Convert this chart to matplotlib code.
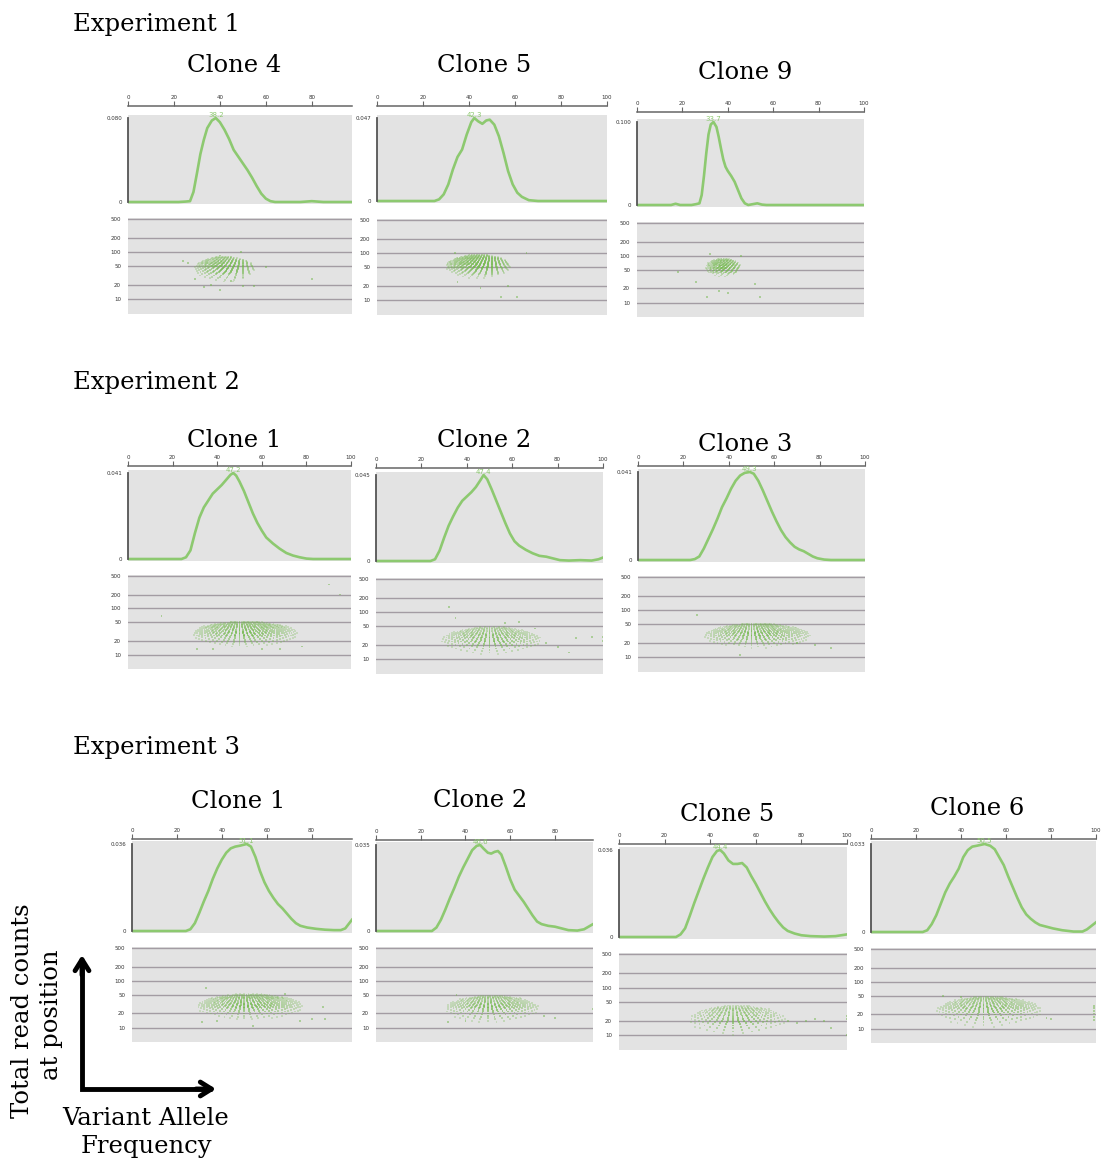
import math
import numpy as np
import matplotlib
matplotlib.use("Agg")
import matplotlib.pyplot as plt
from matplotlib.colors import to_rgb

W, H = 1105, 1165
GREEN = "#8dc970"
DOT = "#74b94e"
BOX = "#e3e3e3"
GRID = "#a39ca3"
SERIF = "DejaVu Serif"

# ---------------- density curves (VAF %, height relative to the peak) ----------------
# Experiment 1
e1c4_vaf = [0, 22, 25, 27, 28.5, 30, 31.5, 33, 34.5, 36.5, 38.2, 40, 42, 44, 46, 48, 50, 52, 54, 56, 58, 60, 62, 64, 75, 80, 85, 97.5]
e1c4_den = [0, 0, 0.005, 0.01, 0.12, 0.34, 0.57, 0.74, 0.88, 0.97, 1.0, 0.95, 0.86, 0.75, 0.62, 0.54, 0.46, 0.38, 0.29, 0.19, 0.1, 0.04, 0.01, 0, 0, 0.01, 0, 0]
e1c5_vaf = [0, 25, 27, 29, 31, 33, 35, 37, 39, 41, 42.3, 44, 45.8, 47.5, 49, 51, 53, 55, 57, 59, 61, 63, 66, 70, 100]
e1c5_den = [0, 0, 0.02, 0.08, 0.2, 0.38, 0.53, 0.62, 0.8, 0.95, 1.0, 0.96, 0.93, 0.97, 0.98, 0.92, 0.78, 0.58, 0.36, 0.2, 0.1, 0.05, 0.01, 0, 0]
e1c9_vaf = [0, 15, 17, 19, 24, 26, 27.5, 28.5, 29.5, 30.5, 31.5, 32.5, 33.7, 35, 36, 37, 38, 39, 40, 41.5, 43, 44.5, 46, 47.5, 49, 51, 53, 55, 57, 100]
e1c9_den = [0, 0, 0.015, 0, 0, 0.01, 0.02, 0.12, 0.35, 0.62, 0.85, 0.97, 1.0, 0.94, 0.82, 0.68, 0.55, 0.46, 0.41, 0.35, 0.28, 0.18, 0.08, 0.02, 0, 0.01, 0.02, 0.005, 0, 0]

# Experiment 2
e2c1_vaf = [0, 24, 26, 28, 30, 32, 34, 36, 38, 40, 42, 44, 46, 47.2, 48.5, 50, 52, 54, 56, 58, 60, 62, 65, 68, 71, 74, 77, 80, 83, 100]
e2c1_den = [0, 0, 0.02, 0.1, 0.3, 0.48, 0.6, 0.68, 0.76, 0.81, 0.86, 0.92, 0.98, 1.0, 0.97, 0.9, 0.79, 0.66, 0.53, 0.42, 0.33, 0.25, 0.18, 0.12, 0.07, 0.04, 0.02, 0.005, 0, 0]
e2c2_vaf = [0, 24, 26, 28, 30, 32, 34, 36, 38, 40, 42, 44, 46, 47.4, 49, 51, 53, 55, 57, 59, 61, 63, 66, 69, 72, 75, 78, 81, 85, 90, 95, 98, 100]
e2c2_den = [0, 0, 0.02, 0.12, 0.27, 0.41, 0.52, 0.62, 0.7, 0.75, 0.8, 0.86, 0.94, 1.0, 0.95, 0.83, 0.7, 0.57, 0.44, 0.32, 0.23, 0.18, 0.13, 0.09, 0.06, 0.05, 0.03, 0.01, 0.005, 0.01, 0.005, 0.02, 0.04]
e2c3_vaf = [0, 23, 25, 27, 29, 31, 33, 35, 37, 39, 41, 43, 45, 47, 49.3, 51, 53, 55, 57, 59, 61, 63, 65, 67, 69, 71, 73, 75, 77, 79, 82, 85, 100]
e2c3_den = [0, 0, 0.01, 0.04, 0.13, 0.24, 0.35, 0.47, 0.6, 0.7, 0.81, 0.9, 0.96, 0.99, 1.0, 0.98, 0.9, 0.79, 0.67, 0.55, 0.44, 0.34, 0.26, 0.2, 0.15, 0.12, 0.1, 0.07, 0.04, 0.02, 0.005, 0, 0]

# Experiment 3
e3c1_vaf = [0, 24, 26, 28, 30, 32, 34, 36, 38, 40, 42, 44, 46, 48, 51.1, 53, 55, 57, 59, 61, 63, 65, 67, 69, 71, 73, 75, 78, 82, 86, 90, 93, 95, 96.5, 98]
e3c1_den = [0, 0, 0.02, 0.09, 0.21, 0.34, 0.46, 0.6, 0.72, 0.82, 0.9, 0.95, 0.97, 0.98, 1.0, 0.97, 0.85, 0.69, 0.56, 0.46, 0.38, 0.31, 0.26, 0.2, 0.14, 0.09, 0.06, 0.04, 0.025, 0.015, 0.01, 0.01, 0.03, 0.08, 0.13]
e3c2_vaf = [0, 25, 27, 29, 31, 33, 35, 37, 39, 41, 43, 45, 46.6, 48, 50, 51.5, 53, 54.5, 56, 58, 60, 62, 64, 66, 68, 70, 72, 74, 77, 80, 83, 86, 90, 93, 95, 97]
e3c2_den = [0, 0, 0.04, 0.13, 0.25, 0.38, 0.5, 0.63, 0.74, 0.84, 0.94, 0.99, 1.0, 0.96, 0.91, 0.9, 0.92, 0.93, 0.89, 0.75, 0.6, 0.48, 0.41, 0.34, 0.26, 0.18, 0.11, 0.08, 0.06, 0.05, 0.03, 0.01, 0.005, 0.02, 0.05, 0.08]
e3c5_vaf = [0, 25, 27, 29, 31, 33, 35, 37, 39, 41, 43, 44.4, 46, 48, 50, 52, 54, 56, 58, 60, 62, 64, 66, 68, 70, 72, 74, 77, 80, 84, 90, 95, 100]
e3c5_den = [0, 0, 0.03, 0.1, 0.24, 0.39, 0.53, 0.67, 0.8, 0.92, 0.99, 1.0, 0.96, 0.88, 0.84, 0.84, 0.85, 0.8, 0.7, 0.61, 0.51, 0.41, 0.32, 0.24, 0.17, 0.11, 0.07, 0.04, 0.02, 0.01, 0.005, 0.01, 0.03]
e3c6_vaf = [0, 23, 25, 27, 29, 31, 33, 35, 37, 39, 41, 43, 45, 47, 50.5, 53, 55, 57, 59, 61, 63, 65, 67, 69, 71, 73, 75, 78, 81, 85, 90, 94, 96, 98, 100]
e3c6_den = [0, 0, 0.02, 0.09, 0.19, 0.32, 0.45, 0.55, 0.63, 0.72, 0.85, 0.93, 0.97, 0.98, 1.0, 0.98, 0.94, 0.85, 0.76, 0.63, 0.51, 0.39, 0.28, 0.2, 0.15, 0.11, 0.08, 0.06, 0.04, 0.02, 0.005, 0.005, 0.03, 0.07, 0.11]

# peak VAF labels and density axis maxima
peaks = {"e1c4": 38.2, "e1c5": 42.3, "e1c9": 33.7,
         "e2c1": 47.2, "e2c2": 47.4, "e2c3": 49.3,
         "e3c1": 51.1, "e3c2": 46.6, "e3c5": 44.4, "e3c6": 50.5}
dens_max = {"e1c4": "0.080", "e1c5": "0.047", "e1c9": "0.100",
            "e2c1": "0.041", "e2c2": "0.045", "e2c3": "0.041",
            "e3c1": "0.036", "e3c2": "0.035", "e3c5": "0.036", "e3c6": "0.033"}

# ---------------- read depth vs VAF ----------------
# main cloud: (depth_lo, depth_hi, vaf_lo, vaf_hi, depth_step)
clouds = {"e1c4": (24, 80, 29, 55, 2), "e1c5": (30, 92, 30, 58, 2), "e1c9": (36, 86, 30, 46, 2),
          "e2c1": (15, 52, 29, 76, 1), "e2c2": (13, 48, 29, 73, 1), "e2c3": (16, 52, 29, 76, 1),
          "e3c1": (15, 52, 29, 76, 1), "e3c2": (13, 48, 31, 73, 1), "e3c5": (10, 42, 31, 73, 1),
          "e3c6": (11, 48, 29, 76, 1)}
# scattered positions outside the main cloud: (VAF, depth)
outliers = {
    "e1c4": [(24, 65), (26, 60), (29, 27), (33, 18), (36, 20), (40, 16), (45, 25), (50, 19), (55, 19), (80, 27), (49, 100), (40, 85), (60, 48)],
    "e1c5": [(35, 25), (45, 18), (54, 12), (61, 12), (65, 100), (34, 100), (57, 20)],
    "e1c9": [(18, 45), (26, 28), (31, 13), (36, 18), (40, 16), (52, 25), (54, 13), (46, 100), (32, 110)],
    "e2c1": [(15, 70), (90, 330), (95, 200), (31, 13), (38, 13), (60, 13), (68, 13), (78, 15)],
    "e2c2": [(75, 22), (80, 18), (85, 14), (88, 28), (95, 30), (100, 25), (100, 30), (32, 130), (35, 75), (57, 60), (63, 62), (70, 45)],
    "e2c3": [(26, 80), (85, 16), (45, 11), (70, 20), (78, 18)],
    "e3c1": [(33, 70), (31, 13), (38, 14), (54, 11), (75, 14), (80, 15), (85, 28), (86, 15), (68, 52)],
    "e3c2": [(36, 50), (32, 13), (40, 14), (75, 18), (80, 16), (97, 25)],
    "e3c5": [(74, 20), (78, 18), (82, 20), (86, 22), (90, 20), (93, 14), (100, 10), (100, 22), (100, 25)],
    "e3c6": [(32, 50), (40, 48), (78, 17), (80, 16), (99, 15), (99, 18), (99, 21), (99, 24), (99, 27), (99, 30)],
}

curves = {"e1c4": (e1c4_vaf, e1c4_den), "e1c5": (e1c5_vaf, e1c5_den), "e1c9": (e1c9_vaf, e1c9_den),
          "e2c1": (e2c1_vaf, e2c1_den), "e2c2": (e2c2_vaf, e2c2_den), "e2c3": (e2c3_vaf, e2c3_den),
          "e3c1": (e3c1_vaf, e3c1_den), "e3c2": (e3c2_vaf, e3c2_den), "e3c5": (e3c5_vaf, e3c5_den),
          "e3c6": (e3c6_vaf, e3c6_den)}

# layout in pixels: key, title, title_x, title_baseline, x0, x1, density top/bottom, scatter top/bottom, axis gap, xmax
layout = [
    ("e1c4", "Clone 4", 234, 72, 128, 352, 115, 204, 218, 314, 9, 97.5),
    ("e1c5", "Clone 5", 484, 72, 377, 607, 115, 203, 219, 315, 9, 100),
    ("e1c9", "Clone 9", 745, 79, 637, 864, 119, 207, 222, 317, 7, 100),
    ("e2c1", "Clone 1", 234, 447, 128, 351, 470, 561, 575, 669, 4, 100),
    ("e2c2", "Clone 2", 484, 447, 376, 603, 472, 563, 578, 674, 4, 100),
    ("e2c3", "Clone 3", 745, 451, 638, 865, 469, 562, 576, 672, 3, 100),
    ("e3c1", "Clone 1", 238, 808, 132, 352, 841, 933, 947, 1042, 2, 98),
    ("e3c2", "Clone 2", 480, 807, 376, 593, 842, 933, 947, 1042, 2, 97),
    ("e3c5", "Clone 5", 727, 821, 619, 847, 847, 939, 953, 1050, 3, 100),
    ("e3c6", "Clone 6", 977, 815, 871, 1096, 841, 934, 948, 1043, 2, 100),
]
experiments = [("Experiment 1", 31), ("Experiment 2", 389), ("Experiment 3", 754)]


def px_axes(fig, x0, x1, y0, y1):
    return fig.add_axes([x0 / W, 1 - y1 / H, (x1 - x0) / W, (y1 - y0) / H])


def cloud_points(key):
    # every alt/total read combination k/n inside the cloud window; fainter towards the edges
    d_lo, d_hi, v_lo, v_hi, step = clouds[key]
    c, hw = (v_lo + v_hi) / 2, (v_hi - v_lo) / 2
    lm, lh = (math.log(d_lo) + math.log(d_hi)) / 2, (math.log(d_hi) - math.log(d_lo)) / 2
    xs, ys, alphas = [], [], []
    for n in range(d_lo, d_hi + 1, step):
        t = (math.log(n) - lm) / lh
        f = max(0.3, math.sqrt(max(0.0, 1 - t * t)))
        lo, hi = c - hw * f, c + hw * f
        for k in range(math.ceil(n * lo / 100), math.floor(n * hi / 100) + 1):
            v = 100 * k / n
            r = min(1.0, math.hypot((v - c) / hw, t))
            xs.append(v)
            ys.append(n)
            alphas.append(0.75 - 0.5 * r)
    for v, n in outliers[key]:
        xs.append(v)
        ys.append(n)
        alphas.append(0.5)
    return xs, ys, alphas


fig = plt.figure(figsize=(W / 100, H / 100), dpi=100)
fig.patch.set_facecolor("white")
dot_rgb = to_rgb(DOT)

for key, title, tx, ty, x0, x1, dt, db, st, sb, gap, xmax in layout:
    # density of variant allele frequencies
    ax = px_axes(fig, x0, x1, dt, db)
    ax.set_facecolor(BOX)
    ymax = float(dens_max[key])
    vaf, rel = curves[key]
    ax.plot(vaf, np.array(rel) * ymax, color=GREEN, lw=1.9, solid_joinstyle="round")
    span = db - dt
    lo = -2 * ymax / (span - 5)
    ax.set_ylim(lo, lo + ymax * span / (span - 5))
    ax.set_xlim(0, xmax)
    for s in ("right", "bottom"):
        ax.spines[s].set_visible(False)
    ax.spines["left"].set_bounds(0, ymax)
    ax.spines["left"].set_color("#555555")
    ax.spines["left"].set_linewidth(1.3)
    ax.spines["top"].set_position(("outward", gap * 0.72))
    ax.spines["top"].set_color("#666666")
    ax.spines["top"].set_linewidth(1.1)
    ax.xaxis.tick_top()
    ax.set_xticks([t for t in (0, 20, 40, 60, 80, 100) if t <= xmax])
    ax.tick_params(axis="x", direction="out", length=3.5, width=0.8, color="#666666",
                   labelsize=4, pad=1, labelcolor="#333333")
    ax.set_yticks([0, ymax])
    ax.set_yticklabels(["0", dens_max[key]])
    ax.tick_params(axis="y", length=0, labelsize=4, pad=4, labelcolor="#333333")
    ax.text(peaks[key], ymax, f"{peaks[key]}", ha="center", va="bottom",
            fontsize=5, color=GREEN)

    # total read depth against VAF
    sx = px_axes(fig, x0, x1, st, sb)
    sx.set_facecolor(BOX)
    sx.set_yscale("log")
    sx.set_ylim(4.9, 530)
    sx.set_xlim(0, xmax)
    for g in (10, 20, 50, 100, 200, 500):
        sx.axhline(g, color=GRID, lw=1.0, zorder=1)
    xs, ys, alphas = cloud_points(key)
    colors = [(*dot_rgb, a) for a in alphas]
    sx.scatter(xs, ys, s=1.8, marker="s", c=colors, linewidths=0, zorder=2)
    for s in sx.spines.values():
        s.set_visible(False)
    sx.set_xticks([])
    sx.set_yticks([10, 20, 50, 100, 200, 500])
    sx.set_yticklabels(["10", "20", "50", "100", "200", "500"])
    sx.minorticks_off()
    sx.tick_params(axis="y", length=0, labelsize=4, pad=5, labelcolor="#333333")

    fig.text(tx / W, 1 - ty / H, title, ha="center", va="baseline",
             fontsize=17.5, family=SERIF)

for label, y in experiments:
    fig.text(73 / W, 1 - y / H, label, ha="left", va="baseline", fontsize=17.5, family=SERIF)

# axis key in the lower left corner
key_ax = fig.add_axes([0, 0, 1, 1], facecolor="none")
key_ax.set_xlim(0, W)
key_ax.set_ylim(H, 0)
key_ax.axis("off")
key_ax.plot([82, 82, 212], [966, 1089, 1089], color="black", lw=3.5,
            solid_joinstyle="miter", solid_capstyle="butt")
arrow = dict(arrowstyle="->,head_length=0.8,head_width=0.5", lw=3.5, color="black",
             shrinkA=0, shrinkB=0)
key_ax.annotate("", xy=(82, 955), xytext=(82, 975), arrowprops=arrow)
key_ax.annotate("", xy=(216, 1089), xytext=(196, 1089), arrowprops=arrow)
key_ax.text(29, 1118, "Total read counts", rotation=90, rotation_mode="anchor",
            ha="left", va="baseline", fontsize=17.5, family=SERIF)
key_ax.text(58, 1080, "at position", rotation=90, rotation_mode="anchor",
            ha="left", va="baseline", fontsize=17.5, family=SERIF)
key_ax.text(146, 1125, "Variant Allele", ha="center", va="baseline", fontsize=17.5, family=SERIF)
key_ax.text(146, 1153, "Frequency", ha="center", va="baseline", fontsize=17.5, family=SERIF)

fig.savefig("out.png", dpi=100, facecolor="white")
